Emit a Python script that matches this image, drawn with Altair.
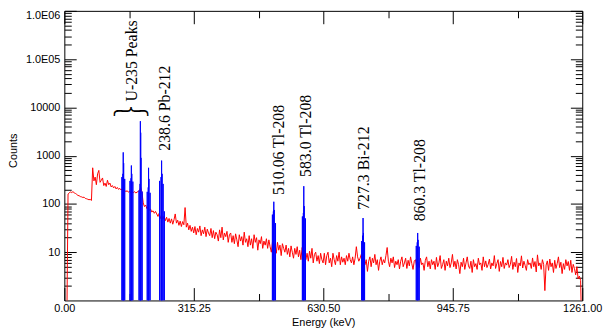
import altair as alt
import pandas as pd

# ---------------- data ----------------
# gamma spectrum, one value every 3 keV starting at 0 keV
spectrum_step_kev = 3
spectrum_counts = [
    0.2, 0.2, 0.3, 160, 168, 178, 172, 180, 170, 165, 158, 150, 148, 142, 140,
    136, 138, 130, 128, 125, 122, 124, 118, 560, 300, 360, 250, 420, 495, 280,
    310, 345, 240, 270, 230, 310, 250, 270, 225, 240, 215, 230, 205, 220, 200,
    210, 195, 205, 185, 190, 180, 188, 175, 182, 170, 178, 172, 180, 168, 176,
    182, 190, 220, 175, 105, 88, 95, 80, 86, 74, 78, 68, 72, 64, 70,
    62, 55, 64, 50, 58, 48, 56, 45, 53, 42, 50, 40, 49, 38, 47,
    62, 40, 46, 36, 44, 34, 43, 37, 84, 33, 40, 29, 36, 27, 33,
    25, 34, 23, 31, 26, 35, 22, 29, 24, 33, 21, 30, 25, 22, 31,
    20, 28, 19, 26, 23, 17, 29, 20, 33, 18, 25, 21, 27, 16, 23,
    25, 16, 22, 15, 24, 18, 13, 23, 17, 21, 14, 26, 16, 19, 13,
    22, 14, 19, 12, 23, 16, 20, 11, 18, 15, 21, 12, 17, 14, 19,
    12, 18, 13, 10, 17, 12, 15, 9.5, 16, 11, 14, 8.5, 15, 12, 10,
    14, 9, 12, 8, 13.5, 10, 7.5, 12, 9, 13, 8, 11, 7, 12.5, 9,
    11, 7, 9.5, 6.5, 10.5, 7.5, 12, 6, 9, 10, 6.5, 8.5, 5.8, 9.5, 7,
    6, 9.5, 5.5, 8.5, 10, 6, 7.5, 5, 9.5, 7, 5.5, 8.5, 6.5, 10, 5.5,
    8, 6.2, 7.5, 5.5, 8.5, 6.5, 9.5, 7, 6, 8, 5.5, 7.5, 13, 8, 6.5,
    7.5, 9, 6, 8, 5.5, 7, 4, 6.5, 8, 5, 7.5, 6, 9, 5.5, 7,
    4.2, 6.5, 8, 5.5, 7, 6, 8.5, 12.5, 6.5, 5, 7.5, 6, 8, 4.8, 6.5,
    5.5, 7, 4.5, 6.5, 8, 5, 6, 7.5, 4.6, 6.8, 5.2, 8, 5.8, 4.4, 6.5,
    7, 5, 6.2, 4.8, 7.5, 5.5, 6, 4.2, 6.8, 8, 5, 6.5, 4.5, 7, 5.5,
    6.5, 4.4, 7.8, 5, 6, 8.5, 4.6, 5.5, 7, 4.2, 6.5, 5.2, 7.5, 4.8, 6,
    9, 5, 6.5, 4.5, 7, 5.5, 3.6, 6.2, 5, 7.5, 4.4, 6, 8, 5.2, 4.6,
    6.5, 3.8, 7, 5, 5.8, 4.4, 7.5, 5.5, 6, 4.2, 8, 5, 6.6, 4.8, 5.6,
    7.2, 4.5, 6, 5.2, 8.5, 4.6, 5.8, 7, 4, 6.4, 5, 7.8, 4.6, 6, 5.4,
    7, 4.8, 5.6, 8.2, 4.4, 6.2, 5, 7.4, 3.8, 6, 5.2, 8.4, 4.7, 6.5, 5.3,
    4.2, 7, 5.5, 6, 4.6, 7.6, 5, 6.4, 3.9, 8.8, 5.2, 6, 4.4, 7, 5.6,
    1.6, 5.4, 6.6, 4.2, 7.2, 5, 6, 3.8, 6.8, 4.6, 5.8, 8, 4.8, 6.2, 3.6,
    5.8, 4.4, 7, 5.2, 6.4, 4.2, 6.8, 3.8, 5.6, 4.6, 3.4, 5, 2.8, 3.2, 2.6,
    0.2,
]

# identified peaks: (energy keV, counts) outline points
peak_profiles = {
    "U-235 143.8": [(139.8, 1), (140.2, 360), (142.6, 420), (143.4, 1170), (144.4, 700), (147.0, 330), (147.4, 1)],
    "U-235 163.3": [(159.5, 1), (159.9, 300), (162.4, 340), (163.2, 625), (164.2, 420), (166.8, 290), (167.2, 1)],
    "U-235 185.7": [(181.5, 1), (181.9, 190), (184.4, 260), (185.1, 5180), (185.9, 2990), (186.6, 900), (189.4, 180), (189.8, 1)],
    "U-235 205.3": [(201.4, 1), (201.8, 178), (204.3, 220), (205.1, 560), (206.0, 330), (208.8, 170), (209.2, 1)],
    "Pb-212 238.6": [(231.5, 1), (232.0, 300), (235.5, 360), (236.8, 790), (238.0, 420), (240.5, 260), (243.5, 70), (244.5, 1)],
    "Tl-208 510.06": [(506.2, 1), (506.6, 60), (509.0, 70), (510.0, 111), (511.0, 75), (514.2, 40), (514.6, 1)],
    "Tl-208 583.0": [(579.2, 1), (579.6, 55), (582.0, 65), (583.0, 233), (584.0, 90), (587.0, 50), (587.4, 1)],
    "Bi-212 727.3": [(723.5, 1), (723.9, 17), (726.3, 22), (727.3, 51), (728.3, 25), (731.0, 16), (731.4, 1)],
    "Tl-208 860.3": [(856.5, 1), (856.9, 13.5), (859.3, 16), (860.3, 25), (861.3, 18), (864.0, 13), (864.4, 1)],
}

label_texts = ["U-235 Peaks", "238.6 Pb-212", "510.06 Tl-208", "583.0 Tl-208", "727.3 Bi-212", "860.3 Tl-208"]
label_energy = [164.4, 244.7, 523.0, 589.6, 729.9, 866.3]
label_counts = [13250, 1265, 153, 361, 75.4, 43.5]

brace_text = ["\ufe37"]
brace_energy = [162.4]
brace_counts = [7900]

x_major_ticks = [0, 315.25, 630.5, 945.75, 1261]
x_minor_ticks = [157.625, 472.875, 788.125, 1103.375]
y_major_ticks = [10, 100, 1000, 10000, 100000, 1000000]
y_major_labels = ["10", "100", "1000", "10000", "1.0E05", "1.0E06"]
y_minor_ticks = [m * 10 ** k for k in range(0, 6) for m in range(2, 10)]

# ---------------- tables ----------------
spec_df = pd.DataFrame({
    "energy": [i * spectrum_step_kev for i in range(len(spectrum_counts))],
    "counts": spectrum_counts,
})
rows = []
for name, pts in peak_profiles.items():
    for idx, (e, c) in enumerate(pts):
        rows.append({"peak": name, "idx": idx, "energy": e, "counts": c, "base": 1})
peak_df = pd.DataFrame(rows)
label_df = pd.DataFrame({"text": label_texts, "energy": label_energy, "counts": label_counts})
brace_df = pd.DataFrame({"text": brace_text, "energy": brace_energy, "counts": brace_counts})

label_expr = ""
for v, l in zip(y_major_ticks, y_major_labels):
    label_expr += f"datum.value == {v} ? '{l}' : "
label_expr += "''"

W, H = 524, 293
xs = alt.Scale(domain=[0, 1261], nice=False, zero=False)
ys = alt.Scale(type="log", domain=[1, 1000000], nice=False)

common = dict(domain=False, grid=False, tickColor="black", tickWidth=1, labelOverlap=False)

line = alt.Chart(spec_df).mark_line(color="#ff0000", strokeWidth=1, clip=True).encode(
    x=alt.X("energy:Q", scale=xs, axis=alt.Axis(
        orient="bottom", values=x_major_ticks, format=".2f", tickSize=13, offset=-13,
        labelPadding=2, labelFlush=False, title="Energy (keV)", titleX=W / 2, titleY=35,
        titleBaseline="middle", titleAlign="center", **common)),
    y=alt.Y("counts:Q", scale=ys, axis=alt.Axis(
        orient="left", values=y_major_ticks, labelExpr=label_expr, tickSize=12, offset=-12,
        labelPadding=4.5, labelFlush=True, labelFlushOffset=1, title="Counts", titleX=-63, titleY=141,
        titleAngle=270, titleBaseline="middle", titleAlign="center", **common)),
)

peaks = alt.Chart(peak_df).mark_area(
    orient="vertical", fill="#a4adff", fillOpacity=0.85, stroke="#0000ff", strokeWidth=1, clip=True
).encode(
    x=alt.X("energy:Q", scale=xs, axis=alt.Axis(
        orient="bottom", values=x_minor_ticks, tickSize=7, offset=-7, labels=False, title="", **common)),
    y=alt.Y("counts:Q", scale=ys, axis=alt.Axis(
        orient="left", values=y_minor_ticks, tickSize=7, offset=-7, labels=False, title="", **common)),
    y2="base:Q",
    detail="peak:N",
    order="idx:Q",
)

labels = alt.Chart(label_df).mark_text(
    angle=270, align="left", baseline="middle", font="Liberation Serif", fontSize=16, color="black"
).encode(
    x=alt.X("energy:Q", scale=xs, axis=alt.Axis(
        orient="top", values=x_major_ticks, tickSize=13, offset=-13, labels=False, title="", **common)),
    y=alt.Y("counts:Q", scale=ys, axis=alt.Axis(
        orient="right", values=y_major_ticks, tickSize=12, offset=-12, labels=False, title="", **common)),
    text="text:N",
)

brace = alt.Chart(brace_df).mark_text(
    align="center", baseline="middle", dy=-10, font="Noto Sans CJK JP", fontSize=37, fontWeight=300,
    color="black"
).encode(
    x=alt.X("energy:Q", scale=xs, axis=alt.Axis(
        orient="top", values=x_minor_ticks, tickSize=7, offset=-7, labels=False, title="", **common)),
    y=alt.Y("counts:Q", scale=ys, axis=alt.Axis(
        orient="right", values=y_minor_ticks, tickSize=7, offset=-7, labels=False, title="", **common)),
    text="text:N",
)

chart = alt.layer(line, peaks, labels, brace).resolve_axis(
    x="independent", y="independent"
).properties(
    width=W, height=H,
    autosize=alt.AutoSizeParams(type="none"),
    padding={"left": 57, "top": 1, "right": 21, "bottom": 28},
    background="white",
).configure_view(
    stroke="black", strokeWidth=1
).configure_axis(
    labelFont="Liberation Sans", labelFontSize=11, labelColor="black",
    titleFont="Liberation Sans", titleFontSize=11, titleFontWeight="normal", titleColor="black",
)

chart.save("out.html", embed_options={"renderer": "svg", "actions": False})
